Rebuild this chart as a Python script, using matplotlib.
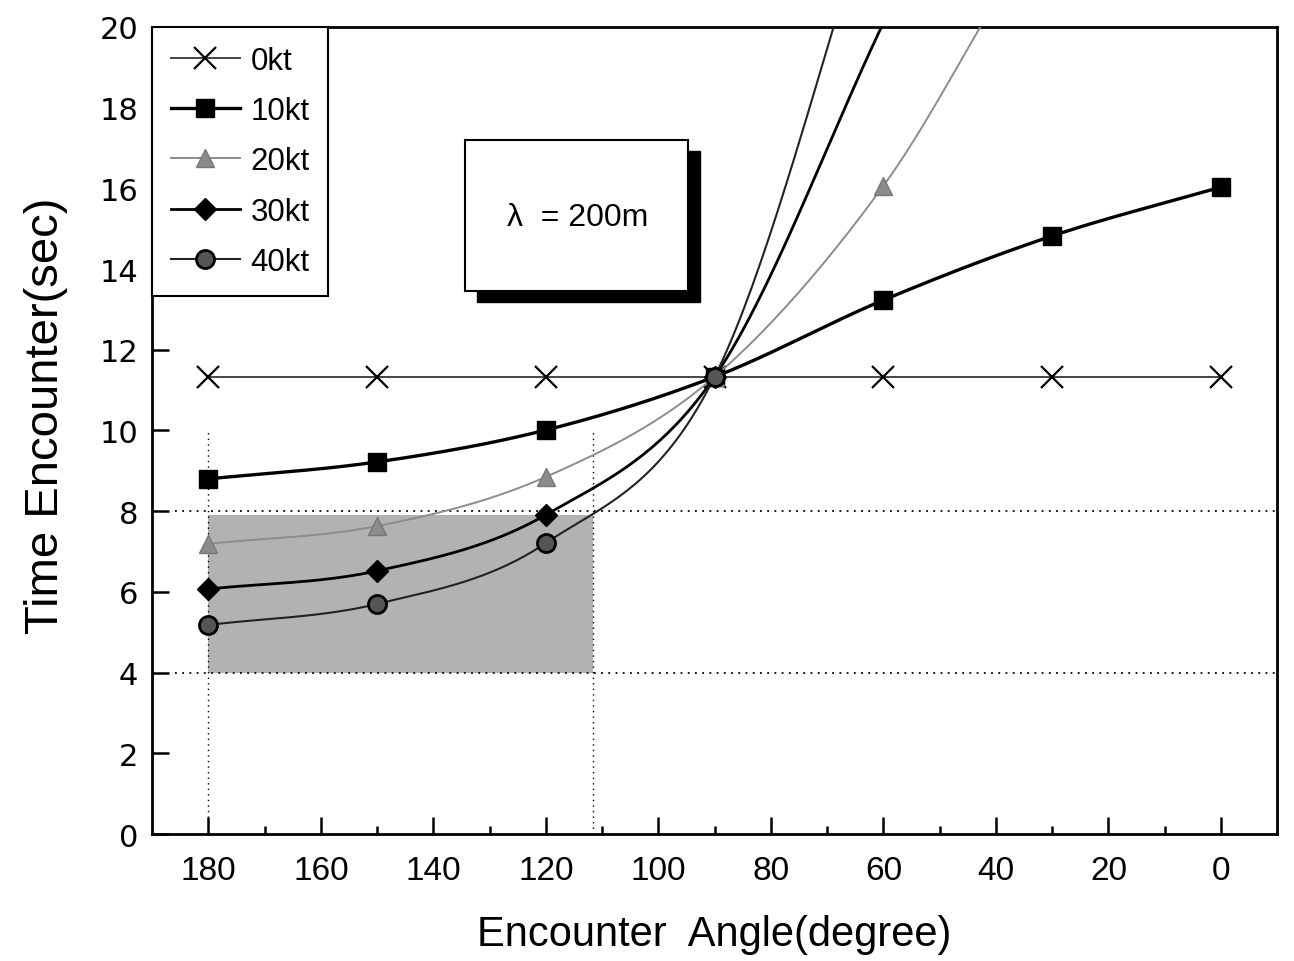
import numpy as np
import matplotlib
matplotlib.use('Agg')
import matplotlib.pyplot as plt
from matplotlib.patches import Rectangle

# encounter angle (deg) and encounter period (sec)
angle = [180, 150, 120, 90, 60, 30, 0]
te_0kt = [11.33, 11.33, 11.33, 11.33, 11.33, 11.33, 11.33]
te_10kt = [8.80, 9.22, 10.01, 11.33, 13.23, 14.82, 16.03]
te_20kt = [7.19, 7.63, 8.85, 11.33, 16.06, 22.8, 27.0]
te_30kt = [6.07, 6.52, 7.91, 11.33, 20.1]
te_40kt = [5.18, 5.70, 7.21, 11.33, 24.0]
labels = ['0kt', '10kt', '20kt', '30kt', '40kt']

xticks = [180, 160, 140, 120, 100, 80, 60, 40, 20, 0]
yticks = [0, 2, 4, 6, 8, 10, 12, 14, 16, 18, 20]

N = 40


def spline(x, y, n=N):
    # catmull-rom style curve through the points, like the origin b-spline
    x = np.asarray(x, float)
    y = np.asarray(y, float)
    m = np.zeros_like(y)
    m[1:-1] = (y[2:] - y[:-2]) / 2
    m[0] = y[1] - y[0]
    m[-1] = y[-1] - y[-2]
    xs, ys = [], []
    for i in range(len(x) - 1):
        t = np.linspace(0, 1, n, endpoint=False)
        h00 = 2*t**3 - 3*t**2 + 1
        h10 = t**3 - 2*t**2 + t
        h01 = -2*t**3 + 3*t**2
        h11 = t**3 - t**2
        xs.append(x[i] + t*(x[i+1] - x[i]))
        ys.append(h00*y[i] + h10*m[i] + h01*y[i+1] + h11*m[i+1])
    xs.append([x[-1]])
    ys.append([y[-1]])
    return np.concatenate(xs), np.concatenate(ys)


fig = plt.figure(figsize=(12.94, 9.62), dpi=100)
ax = fig.add_axes([0.1175, 0.132, 0.8695, 0.839])

# shaded region and dotted guide lines
ax.add_patch(Rectangle((180, 4), 111.6 - 180, 3.9, facecolor='#b2b2b2', edgecolor='none', zorder=1))
ax.plot([186, -10], [8, 8], ls=(0, (1, 3)), color='black', lw=1.3, zorder=1.5)
ax.plot([186, -10], [4, 4], ls=(0, (1, 3)), color='black', lw=1.3, zorder=1.5)
ax.plot([180, 180], [0, 10], ls=(0, (1, 3)), color='black', lw=1.0, zorder=1.5)
ax.plot([111.6, 111.6], [0, 10], ls=(0, (1, 3)), color='black', lw=1.0, zorder=1.5)

series = [te_0kt, te_10kt, te_20kt, te_30kt, te_40kt]
styles = [
    dict(color='#444444', lw=1.4, marker='x', ms=16, mew=1.6, mfc='black', mec='black'),
    dict(color='black', lw=2.4, marker='s', ms=13, mfc='black', mec='black'),
    dict(color='#8c8c8c', lw=1.4, marker='^', ms=13, mfc='#8c8c8c', mec='#777777'),
    dict(color='black', lw=2.0, marker='D', ms=11, mfc='black', mec='black'),
    dict(color='#222222', lw=1.5, marker='o', ms=13, mfc='#555555', mec='black', mew=2),
]
for vals, lab, st in zip(series, labels, styles):
    xs, ys = spline(angle[:len(vals)], vals)
    idx = [i * N for i in range(len(vals)) if vals[i] <= 20]
    ax.plot(xs, ys, label=lab, markevery=idx, zorder=3, **st)

# lambda box with shadow
ax.add_patch(Rectangle((132.2, 13.18), 92.6 - 132.2, 16.92 - 13.18, facecolor='black', edgecolor='black', zorder=4))
ax.add_patch(Rectangle((134.3, 13.46), 94.7 - 134.3, 17.2 - 13.46, facecolor='white', edgecolor='black', lw=1.5, zorder=5))
ax.text(114.4, 15.3, 'λ  = 200m', fontsize=23, family='Liberation Sans', ha='center', va='center', zorder=6)

ax.set_xlim(190, -10)
ax.set_ylim(0, 20)
ax.set_xticks(xticks)
ax.set_xticks(range(170, -1, -20), minor=True)
ax.set_yticks(yticks)
ax.tick_params(which='major', direction='in', length=12, width=1.8)
ax.tick_params(which='minor', direction='in', length=6, width=1.8)
ax.tick_params(axis='x', pad=15)
ax.tick_params(axis='y', pad=10)
for lab in ax.get_xticklabels():
    lab.set_fontsize(24)
    lab.set_family(['Liberation Sans Narrow', 'Liberation Sans'])
for lab in ax.get_yticklabels():
    lab.set_fontsize(22)
    lab.set_family('DejaVu Sans')
for sp in ax.spines.values():
    sp.set_linewidth(2)

ax.set_xlabel('Encounter  Angle(degree)', fontsize=30, family='Liberation Sans', labelpad=20)
ax.set_ylabel('Time Encounter(sec)', fontsize=34, family='Liberation Sans')
ax.yaxis.set_label_coords(-0.075, 0.52)

leg = ax.legend(loc='upper left', borderaxespad=0, fancybox=False, framealpha=1,
                edgecolor='black', prop={'family': 'Liberation Sans', 'size': 22.5},
                handlelength=2.2, handletextpad=0.35, labelspacing=0.65, borderpad=0.6)
leg.get_frame().set_linewidth(1.5)
leg.set_zorder(7)

fig.savefig('out.png', dpi=100)
